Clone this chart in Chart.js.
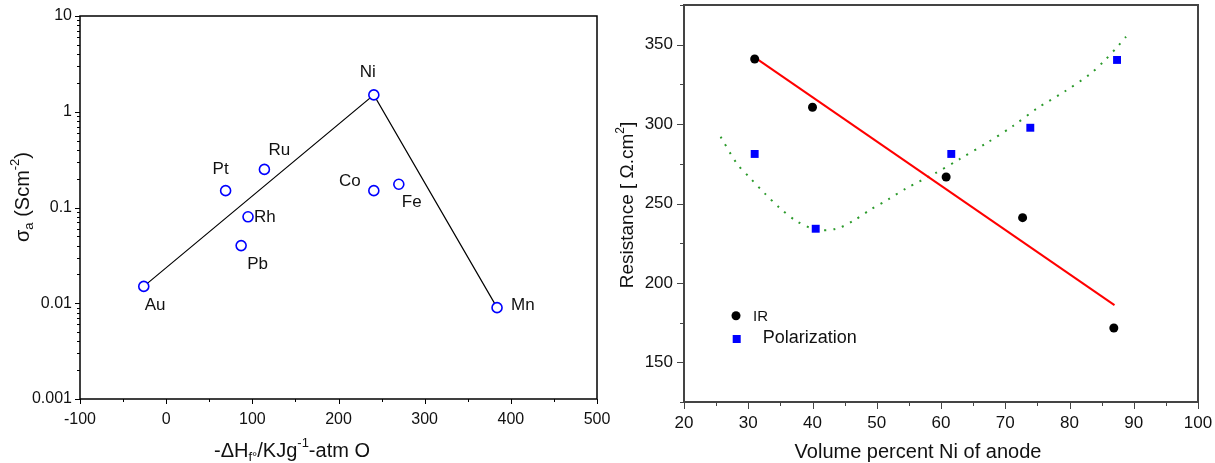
<!DOCTYPE html>
<html>
<head>
<meta charset="utf-8">
<script src="https://cdn.jsdelivr.net/npm/chart.js@4.4.0/dist/chart.umd.min.js"></script>
<style>
  html, body { margin: 0; padding: 0; background: #fff; }
  #wrap { position: relative; width: 1215px; height: 463px; overflow: hidden; }
  #conductivity { position: absolute; left: 0; top: 0; }
  #resistance { position: absolute; left: 600px; top: 0; }
</style>
</head>
<body>
<div id="wrap">
  <canvas id="conductivity" width="625" height="463"></canvas>
  <canvas id="resistance" width="615" height="463"></canvas>
</div>
<script>
// left panel: anode metal conductivity vs. oxide formation enthalpy
const metals = ['Au', 'Pt', 'Ru', 'Rh', 'Pb', 'Ni', 'Co', 'Fe', 'Mn'];
const enthalpy = [-26, 69, 114, 95, 87, 241, 241, 270, 384];
const sigma = [0.015, 0.15, 0.25, 0.08, 0.04, 1.5, 0.15, 0.175, 0.009];
const trendMetals = ['Au', 'Ni', 'Mn'];
const enthalpyTicks = [-100, 0, 100, 200, 300, 400, 500];
const sigmaTicks = [0.001, 0.01, 0.1, 1, 10];

// right panel: resistance vs. Ni content of the anode
const irVolume = [31, 40, 60.8, 72.7, 86.9];
const irResistance = [341, 310.6, 266.7, 241.1, 171.6];
const polVolume = [31, 40.5, 61.6, 73.9, 87.4];
const polResistance = [281.2, 234.1, 281.2, 297.7, 340.4];
const irFitVolume = [31, 87];
const irFitResistance = [342, 186];
const polFitVolume = [25.7, 28.2, 30.4, 32.6, 34.9, 37.4, 40.6, 43.7, 46.4, 49.0, 51.8,
  54.6, 58.9, 63.0, 67.2, 71.2, 75.1, 79.2, 83.2, 85.5, 87.7, 88.8];
const polFitResistance = [292, 275.3, 265.6, 256.2, 247.2, 239.2, 233.5, 234.1, 239.2, 246.1, 252.6,
  259.6, 268.6, 278.2, 288.3, 298.8, 310.3, 320.4, 331.5, 340.2, 349.8, 355];
const volumeTicks = [20, 30, 40, 50, 60, 70, 80, 90, 100];
const resistanceTicks = [150, 200, 250, 300, 350];

const FONT = '"Liberation Sans", Arial, Helvetica, sans-serif';
const TEXT = '#111';
Chart.defaults.font.family = FONT;
Chart.defaults.color = TEXT;

// where each metal's name sits relative to its marker
const labelPlacement = {
  Au: [1, 19, 'left'], Pt: [-13, -21, 'left'], Ru: [4, -19, 'left'],
  Rh: [6, 1, 'left'], Pb: [6, 19, 'left'], Ni: [-6, -23, 'center'],
  Co: [-13, -9, 'right'], Fe: [3, 18, 'left'], Mn: [14, -2, 'left']
};

function fixTicks(values) {
  return scale => { scale.ticks = values.map(v => ({value: v})); };
}

// fixed axis size, and no extra room for edge labels (layout padding decides)
function fixSize(key, px) {
  return scale => {
    scale[key] = px;
    scale.paddingTop = scale.paddingBottom = scale.paddingLeft = scale.paddingRight = 0;
  };
}

function drawRich(ctx, parts, cx, cy, size, small, vertical) {
  ctx.save();
  ctx.translate(cx, cy);
  if (vertical) ctx.rotate(-Math.PI / 2);
  let total = 0;
  parts.forEach(p => {
    ctx.font = (p[1] ? small : size) + 'px ' + FONT;
    total += ctx.measureText(p[0]).width;
  });
  let x = -total / 2;
  ctx.textBaseline = 'middle';
  ctx.textAlign = 'left';
  ctx.fillStyle = TEXT;
  parts.forEach(p => {
    ctx.font = (p[1] ? small : size) + 'px ' + FONT;
    const dy = p[1] === 'sub' ? size * 0.3 : p[1] === 'sup' ? -size * 0.38 : 0;
    ctx.fillText(p[0], x, dy);
    x += ctx.measureText(p[0]).width;
  });
  ctx.restore();
}

// frame + outward tick marks, then axis titles and extras
const decorations = {
  id: 'decorations',
  afterDraw(chart, args, opts) {
    const ctx = chart.ctx;
    const a = chart.chartArea;
    const xs = chart.scales.x, ys = chart.scales.y;
    ctx.save();
    ctx.strokeStyle = opts.frameColor;
    ctx.lineWidth = opts.frameWidth;
    ctx.strokeRect(a.left, a.top, a.right - a.left, a.bottom - a.top);
    ctx.lineWidth = 1;
    ctx.beginPath();
    opts.xMajor.forEach(v => {
      const px = Math.round(xs.getPixelForValue(v)) + 0.5;
      ctx.moveTo(px, a.bottom); ctx.lineTo(px, a.bottom + opts.majorLen);
    });
    opts.xMinor.forEach(v => {
      const px = Math.round(xs.getPixelForValue(v)) + 0.5;
      ctx.moveTo(px, a.bottom); ctx.lineTo(px, a.bottom + opts.minorLen);
    });
    opts.yMajor.forEach(v => {
      const py = Math.round(ys.getPixelForValue(v)) + 0.5;
      ctx.moveTo(a.left, py); ctx.lineTo(a.left - opts.majorLen, py);
    });
    opts.yMinor.forEach(v => {
      const py = Math.round(ys.getPixelForValue(v)) + 0.5;
      ctx.moveTo(a.left, py); ctx.lineTo(a.left - opts.minorLen, py);
    });
    ctx.stroke();
    ctx.restore();
    opts.titles.forEach(t => drawRich(ctx, t.parts, t.x, t.y, t.size, t.small, t.vertical));
    if (opts.extra) opts.extra(chart);
  }
};

const logMinor = [];
for (let i = 0; i < sigmaTicks.length - 1; i++) {
  for (let k = 2; k <= 9; k++) logMinor.push(sigmaTicks[i] * k);
}
const byStep = (lo, hi, step) => {
  const out = [];
  for (let v = lo; v <= hi + 1e-9; v += step) out.push(v);
  return out;
};

function metalPoint(m) {
  const i = metals.indexOf(m);
  return {x: enthalpy[i], y: sigma[i]};
}

new Chart(document.getElementById('conductivity'), {
  type: 'scatter',
  data: {
    datasets: [{
      data: metals.map(metalPoint),
      pointStyle: 'circle',
      pointRadius: 5,
      pointBorderWidth: 1.6,
      borderColor: '#0000ff',
      backgroundColor: '#ffffff'
    }, {
      type: 'line',
      data: trendMetals.map(metalPoint),
      borderColor: '#000',
      borderWidth: 1.2,
      pointRadius: 0,
      tension: 0
    }]
  },
  options: {
    responsive: false,
    animation: false,
    layout: {autoPadding: false, padding: {left: 0, right: 28, top: 16, bottom: 0}},
    plugins: {
      legend: {display: false},
      tooltip: {enabled: false},
      decorations: {
        frameColor: '#000', frameWidth: 1.5, majorLen: 5, minorLen: 3,
        xMajor: enthalpyTicks, xMinor: byStep(-50, 450, 100),
        yMajor: sigmaTicks, yMinor: logMinor,
        titles: [
          {parts: [['-ΔH'], ['f°', 'sub'], ['/KJg'], ['-1', 'sup'], ['-atm O']],
            x: 292, y: 451, size: 20, small: 13},
          {parts: [['σ'], ['a', 'sub'], [' (Scm'], ['-2', 'sup'], [')']],
            x: 23, y: 197, size: 20, small: 13, vertical: true}
        ],
        extra(chart) {
          const ctx = chart.ctx;
          const meta = chart.getDatasetMeta(0);
          ctx.save();
          ctx.font = '17px ' + FONT;
          ctx.fillStyle = TEXT;
          ctx.textBaseline = 'middle';
          metals.forEach((m, i) => {
            const p = meta.data[i];
            const [dx, dy, align] = labelPlacement[m];
            ctx.textAlign = align;
            ctx.fillText(m, p.x + dx, p.y + dy);
          });
          ctx.restore();
        }
      }
    },
    scales: {
      x: {
        type: 'linear', min: -100, max: 500,
        grid: {display: false, drawTicks: false}, border: {display: false},
        afterBuildTicks: fixTicks(enthalpyTicks),
        afterFit: fixSize('height', 64),
        ticks: {font: {size: 16}, color: TEXT, padding: 11, maxRotation: 0, autoSkip: false}
      },
      y: {
        type: 'logarithmic', min: 0.001, max: 10,
        grid: {display: false, drawTicks: false}, border: {display: false},
        afterBuildTicks: fixTicks(sigmaTicks),
        afterFit: fixSize('width', 80),
        ticks: {font: {size: 16}, color: TEXT, padding: 8, autoSkip: false, callback: v => String(v)}
      }
    }
  },
  plugins: [decorations]
});

new Chart(document.getElementById('resistance'), {
  type: 'scatter',
  data: {
    datasets: [{
      label: 'IR',
      data: irVolume.map((v, i) => ({x: v, y: irResistance[i]})),
      pointStyle: 'circle',
      pointRadius: 4.5,
      pointBorderWidth: 0,
      backgroundColor: '#000'
    }, {
      label: 'Polarization',
      data: polVolume.map((v, i) => ({x: v, y: polResistance[i]})),
      pointStyle: 'rect',
      pointRadius: 5.6,
      pointBorderWidth: 0,
      backgroundColor: '#0000ff'
    }, {
      type: 'line',
      data: irFitVolume.map((v, i) => ({x: v, y: irFitResistance[i]})),
      borderColor: '#ff0000',
      borderWidth: 2,
      pointRadius: 0
    }, {
      type: 'line',
      data: polFitVolume.map((v, i) => ({x: v, y: polFitResistance[i]})),
      borderColor: '#2b9a2b',
      borderWidth: 2,
      borderDash: [2, 7],
      borderCapStyle: 'butt',
      pointRadius: 0,
      tension: 0.3
    }]
  },
  options: {
    responsive: false,
    animation: false,
    layout: {autoPadding: false, padding: {left: 0, right: 17, top: 5, bottom: 0}},
    plugins: {
      legend: {display: false},
      tooltip: {enabled: false},
      decorations: {
        frameColor: '#444', frameWidth: 2, majorLen: 7, minorLen: 4,
        xMajor: volumeTicks, xMinor: byStep(25, 95, 10),
        yMajor: resistanceTicks, yMinor: byStep(125, 375, 50),
        titles: [
          {parts: [['Volume percent Ni of anode']], x: 318, y: 452, size: 20, small: 13},
          {parts: [['Resistance [ Ω.cm'], ['2', 'sup'], [']']],
            x: 28, y: 205, size: 19, small: 12, vertical: true}
        ],
        extra(chart) {
          const ctx = chart.ctx;
          ctx.save();
          ctx.fillStyle = '#000';
          ctx.beginPath();
          ctx.arc(136, 315.7, 4.5, 0, Math.PI * 2);
          ctx.fill();
          ctx.fillStyle = '#0000ff';
          ctx.fillRect(132.7, 335, 8, 8);
          ctx.fillStyle = TEXT;
          ctx.textBaseline = 'middle';
          ctx.textAlign = 'left';
          ctx.font = '15px ' + FONT;
          ctx.fillText(chart.data.datasets[0].label, 153, 317);
          ctx.font = '18px ' + FONT;
          ctx.fillText(chart.data.datasets[1].label, 162.7, 338);
          ctx.restore();
        }
      }
    },
    scales: {
      x: {
        type: 'linear', min: 20, max: 100,
        grid: {display: false, drawTicks: false}, border: {display: false},
        afterBuildTicks: fixTicks(volumeTicks),
        afterFit: fixSize('height', 61),
        ticks: {font: {size: 17}, color: TEXT, padding: 11, maxRotation: 0, autoSkip: false}
      },
      y: {
        type: 'linear', min: 125, max: 375,
        grid: {display: false, drawTicks: false}, border: {display: false},
        afterBuildTicks: fixTicks(resistanceTicks),
        afterFit: fixSize('width', 84),
        ticks: {font: {size: 17}, color: TEXT, padding: 11, autoSkip: false}
      }
    }
  },
  plugins: [decorations]
});
</script>
</body>
</html>
